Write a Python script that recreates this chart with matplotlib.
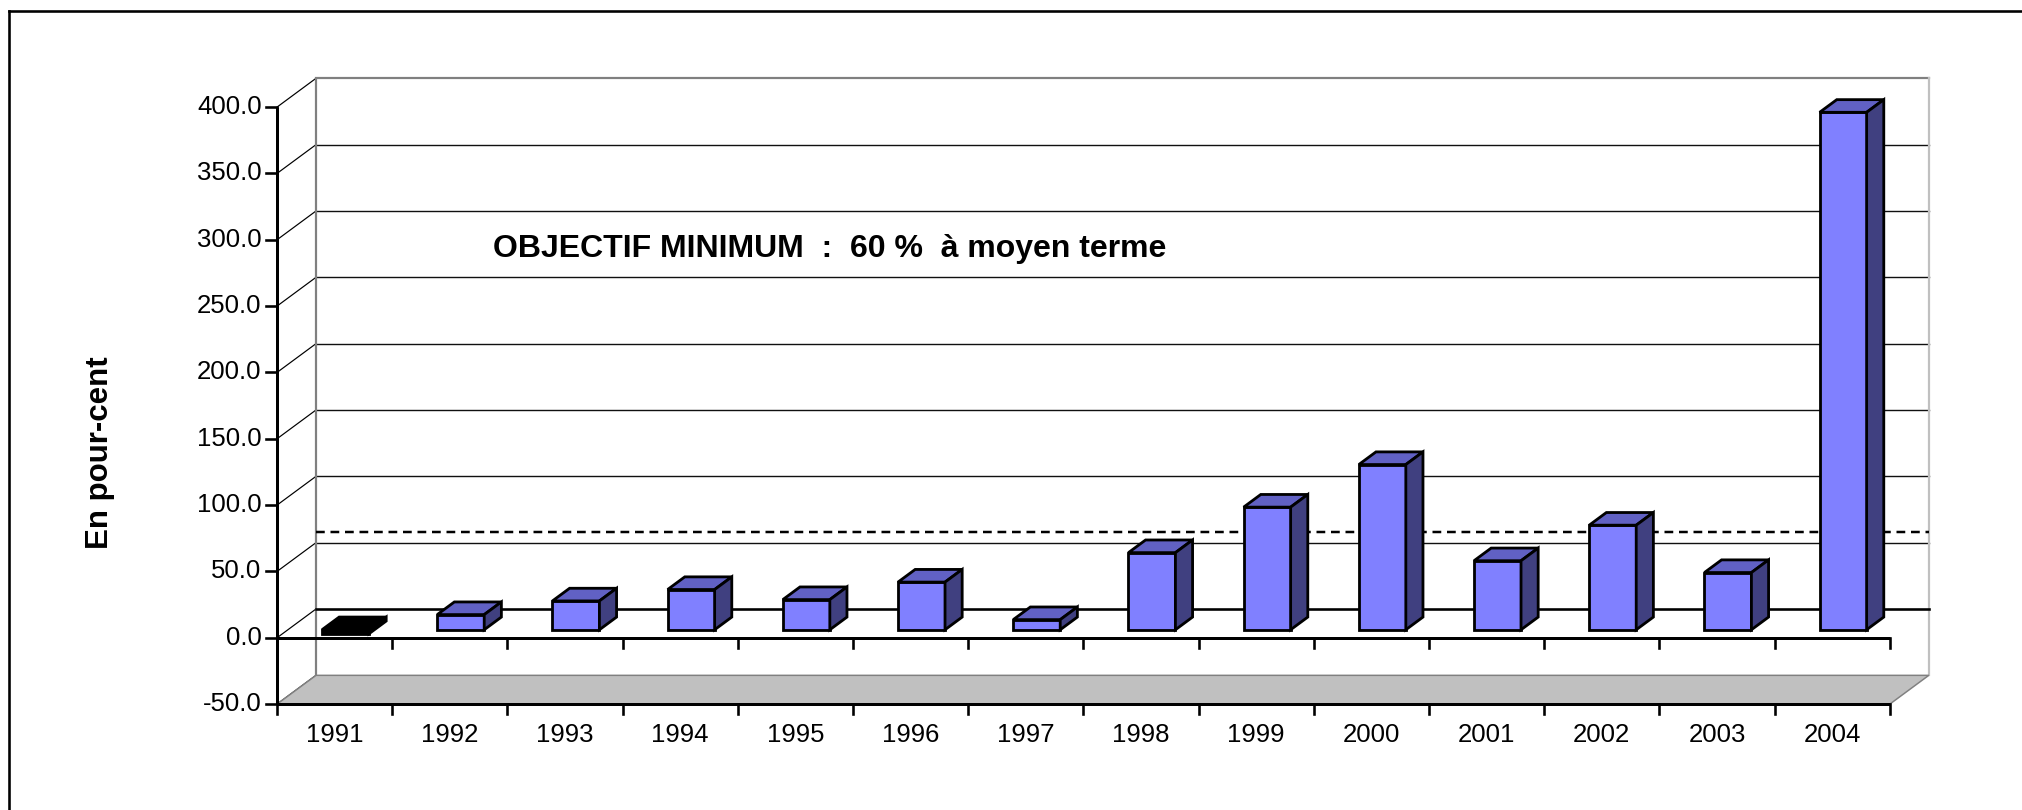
import matplotlib
matplotlib.use("Agg")
import matplotlib.pyplot as plt
from matplotlib.patches import Polygon, Rectangle
from matplotlib.lines import Line2D

# ---------------- data ----------------
years = ["1991", "1992", "1993", "1994", "1995", "1996", "1997",
         "1998", "1999", "2000", "2001", "2002", "2003", "2004"]
values = [-3.0, 11.4, 21.7, 30.3, 22.7, 35.9, 7.6,
          58.1, 92.4, 124.5, 52.0, 78.8, 43.1, 390.0]
objective = 58.0
y_ticks = [-50, 0, 50, 100, 150, 200, 250, 300, 350, 400]
y_label = "En pour-cent"
annotation = "OBJECTIF MINIMUM  :  60 %  à moyen terme"

# ---------------- layout ----------------
plt.rcParams['font.family'] = ['Liberation Sans', 'DejaVu Sans']
W, H, DPI = 2022, 810, 100
fig = plt.figure(figsize=(W / DPI, H / DPI), dpi=DPI)
ax = fig.add_axes([0, 0, 1, 1])
PX_CAT = 115.2      # pixels per category
PX_UNIT = 1.3267    # pixels per value unit
X0 = 277.0          # pixel x of category axis start
Y0 = 637.8          # pixel y (from top) of value 0 at the front
ax.set_xlim(-X0 / PX_CAT, (W - X0) / PX_CAT)
ax.set_ylim((Y0 - H) / PX_UNIT, Y0 / PX_UNIT)
ax.axis('off')

def px_x(p):  # pixel length -> category units
    return p / PX_CAT

def px_y(p):  # pixel length -> value units
    return p / PX_UNIT

DX = px_x(39.0)     # depth offset
DY = px_y(28.8)
n = len(years)
ymin, ymax = y_ticks[0], y_ticks[-1]
LW = 1.0 / (100 / 72)  # 1 px in points

# back wall
ax.add_patch(Rectangle((DX, ymin + DY), n, ymax - ymin, facecolor='white',
                       edgecolor='none', zorder=1))
for v in y_ticks:
    if v != ymin and v != ymax and v != 0:
        ax.plot([DX, n + DX], [v + DY, v + DY], color='#101010', lw=1.4 * LW, zorder=2)
    ax.plot([0, DX], [v, v + DY], color='#000000', lw=1.2 * LW, zorder=2)
# wall borders
ax.plot([DX, DX, n + DX], [ymin + DY, ymax + DY, ymax + DY], color='#808080',
        lw=2.2 * LW, zorder=2, solid_joinstyle='miter')
ax.plot([n + DX, n + DX], [ymin + DY, ymax + DY], color='#c0c0c0', lw=2.2 * LW, zorder=2)

# floor
ax.add_patch(Polygon([(0, ymin), (n, ymin), (n + DX, ymin + DY), (DX, ymin + DY)],
                     closed=True, facecolor='#c0c0c0', edgecolor='#808080',
                     lw=1.5 * LW, zorder=2))

# back zero line
ax.plot([DX, n + DX], [DY, DY], color='black', lw=2.6 * LW, zorder=3)
# objective dashed line
ax.plot([DX, n + DX], [objective + DY, objective + DY], color='black',
        lw=2.5 * LW, dashes=(3.5, 2.3), zorder=3)

# bars
F = 0.28     # front depth fraction
D = 0.44     # bar depth fraction
BW = px_x(47.0)
for i, v in enumerate(values):
    xl = i + 0.5 - BW / 2 + F * DX
    lo = min(0, v) + F * DY
    hi = max(0, v) + F * DY
    ddx, ddy = D * DX, D * DY
    if v < 0:
        cf, ct, cs = '#000000', '#000000', '#000000'
    else:
        cf, ct, cs = '#8080ff', '#6161c4', '#404080'
    kw = dict(edgecolor='black', lw=2.8 * LW, joinstyle='miter', zorder=4 + i * 0.01)
    ax.add_patch(Polygon([(xl, lo), (xl + BW, lo), (xl + BW, hi), (xl, hi)],
                         closed=True, facecolor=cf, **kw))
    ax.add_patch(Polygon([(xl, hi), (xl + BW, hi), (xl + BW + ddx, hi + ddy), (xl + ddx, hi + ddy)],
                         closed=True, facecolor=ct, **kw))
    ax.add_patch(Polygon([(xl + BW, lo), (xl + BW + ddx, lo + ddy), (xl + BW + ddx, hi + ddy), (xl + BW, hi)],
                         closed=True, facecolor=cs, **kw))

# front axes
TL_X = px_y(10.0)
for base in (0, ymin):
    ax.plot([0, n], [base, base], color='black', lw=3.0 * LW, zorder=6,
            solid_capstyle='butt')
    for k in range(0, n + 1):
        ax.plot([k, k], [base, base - TL_X], color='black', lw=2.6 * LW, zorder=6)
ax.plot([0, 0], [ymin, ymax], color='black', lw=3.0 * LW, zorder=6, solid_capstyle='butt')
for v in y_ticks:
    ax.plot([0, -px_x(11.0)], [v, v], color='black', lw=2.6 * LW, zorder=6)
    ax.text(-px_x(15.5), v, f"{v:.1f}", ha='right', va='center', fontsize=18.5, zorder=7)

# category labels
for i, y in enumerate(years):
    ax.text(i + 0.5, ymin - px_y(31.0), y, ha='center', va='center', fontsize=18.5, zorder=7)

# annotation and axis title
ax.text(px_x(493 - X0), px_y(Y0 - 249), annotation, ha='left', va='center',
        fontsize=23, fontweight='bold', zorder=7)
fig.text(100 / W, 1 - 453 / H, y_label, rotation=90, ha='center', va='center',
         fontsize=22.5, fontweight='bold')

# outer frame (left and top edges visible)
fig.add_artist(Line2D([8.5 / W, 8.5 / W], [0, 1 - 11 / H], transform=fig.transFigure,
                      color='black', lw=2.6 * LW, solid_capstyle='projecting'))
fig.add_artist(Line2D([8.5 / W, 1], [1 - 11 / H, 1 - 11 / H], transform=fig.transFigure,
                      color='black', lw=2.6 * LW, solid_capstyle='projecting'))

fig.savefig("out.png", dpi=DPI)
